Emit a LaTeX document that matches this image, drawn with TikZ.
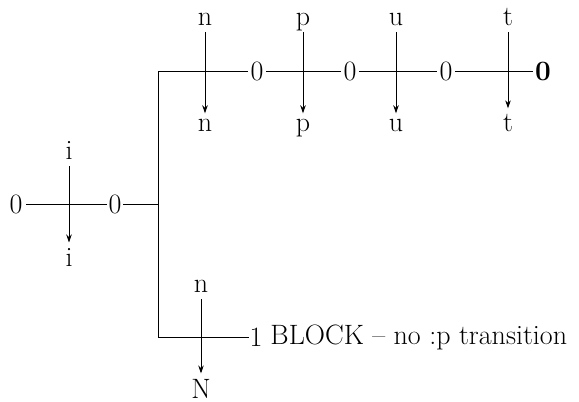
\documentclass[tikz,border=0pt]{standalone}
\usetikzlibrary{arrows.meta}
\begin{document}
\begin{tikzpicture}[x=1pt,y=-1pt,
  font=\fontsize{28}{33}\selectfont,
  line width=0.9pt,
  lbl/.style={inner sep=0pt},
  sym/.style={inner sep=0pt, anchor=base},
  down/.style={-{Stealth[length=8pt,width=5.5pt]}, shorten <=7pt, shorten >=5pt}]
\useasboundingbox (0,0) rectangle (579,402);
% left part
\node[lbl] (z0) at (16,204) {0};
\node[lbl] (z1) at (115,204) {0};
\coordinate (j) at (158,204);
\draw ([xshift=10pt]z0.center) -- ([xshift=-8pt]z1.center);
\draw ([xshift=8pt]z1.center) -- (j);
\node[sym] (i1) at (69,159) {i};
\node[sym] (i2) at (69,266) {i};
\draw[down] (i1.base) -- (i2.north);
% branch
\coordinate (top) at (158,71);
\coordinate (bot) at (158,337);
\draw (top) -- (bot);
% top row
\node[lbl] (a1) at (257,71) {0};
\node[lbl] (a2) at (350,71) {0};
\node[lbl] (a3) at (446,71) {0};
\node[lbl,font=\fontsize{28}{33}\selectfont\bfseries] (a4) at (543,71) {0};
\draw (top) -- ([xshift=-9pt]a1.center);
\draw ([xshift=9pt]a1.center) -- ([xshift=-9pt]a2.center);
\draw ([xshift=9pt]a2.center) -- ([xshift=-9pt]a3.center);
\draw ([xshift=9pt]a3.center) -- ([xshift=-10pt]a4.center);
\foreach \nm/\x/\l in {n/205/n, p/303/p, u/396/u, t/508/t}{
  \node[sym] (\nm top) at (\x,25) {\l};
  \node[sym] (\nm bot) at (\x,131) {\l};
  \draw[down] (\nm top.base) -- (\nm bot.north);
}
% bottom branch
\node[lbl] (one) at (256,337) {1};
\draw (bot) -- ([xshift=-7pt]one.center);
\node[lbl,anchor=west] (blk) at (270,337) {BLOCK -- no :p transition};
\node[sym] (ntop) at (201,292) {n};
\node[sym] (Nbot) at (201,398) {N};
\draw[down] (ntop.base) -- (Nbot.north);
\end{tikzpicture}
\end{document}
